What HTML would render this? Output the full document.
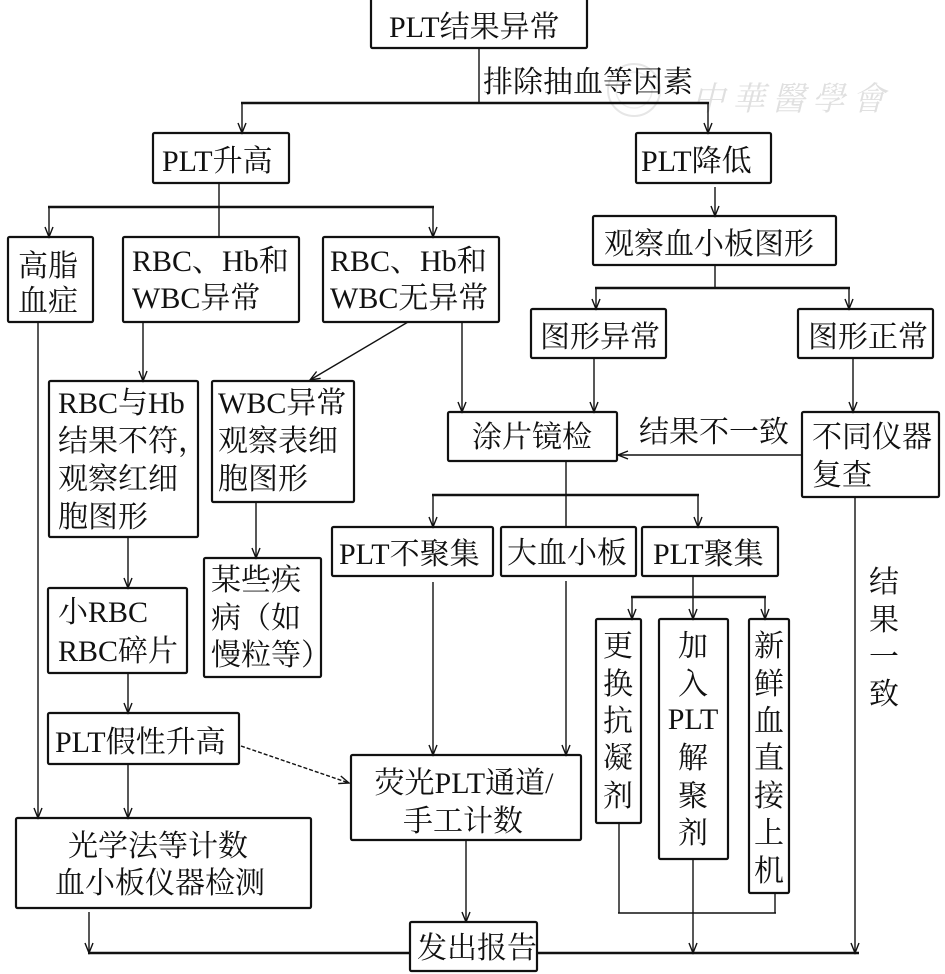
<!DOCTYPE html>
<html><head><meta charset="utf-8"><style>
html,body{margin:0;padding:0;background:#fff;}
svg{display:block;}
text{font-family:"Liberation Serif","Noto Serif CJK SC","Noto Serif CJK JP","Noto Serif CJK TC","Noto Serif CJK KR",serif;font-size:30px;fill:#111;}
.b{fill:none;stroke:#111;stroke-width:2.2;}
.l{fill:none;stroke:#111;stroke-width:1.4;}
.t{fill:none;stroke:#111;stroke-width:2.4;}
.a{fill:none;stroke:#111;stroke-width:1.4;}
</style></head><body>
<svg width="945" height="974" viewBox="0 0 945 974" xmlns="http://www.w3.org/2000/svg">
<!-- watermark -->
<circle cx="634" cy="90" r="26" fill="none" stroke="#e6e6e6" stroke-width="2"/>
<circle cx="634" cy="90" r="18" fill="none" stroke="#eeeeee" stroke-width="1.5"/>
<text x="692" y="110" style="font-size:33px;fill:#e0e0e0;font-style:italic;letter-spacing:7px">中華醫學會</text>

<!-- boxes -->
<rect class="b" x="371" y="-2" width="216" height="50" rx="1.5"/>
<rect class="b" x="153" y="133" width="136" height="50" rx="1.5"/>
<rect class="b" x="636" y="133" width="135" height="50" rx="1.5"/>
<rect class="b" x="8" y="237" width="85" height="85" rx="1.5"/>
<rect class="b" x="123" y="237" width="176" height="85" rx="1.5"/>
<rect class="b" x="323" y="237" width="176" height="85" rx="1.5"/>
<rect class="b" x="593" y="216" width="243" height="49" rx="1.5"/>
<rect class="b" x="531" y="309" width="135" height="49" rx="1.5"/>
<rect class="b" x="798" y="309" width="135" height="49" rx="1.5"/>
<rect class="b" x="49" y="381" width="149" height="156" rx="1.5"/>
<rect class="b" x="212" y="381" width="142" height="121" rx="1.5"/>
<rect class="b" x="448" y="412" width="169" height="49" rx="1.5"/>
<rect class="b" x="802" y="412" width="137" height="85" rx="1.5"/>
<rect class="b" x="332" y="527" width="161" height="49" rx="1.5"/>
<rect class="b" x="501" y="527" width="135" height="49" rx="1.5"/>
<rect class="b" x="642" y="527" width="136" height="49" rx="1.5"/>
<rect class="b" x="204" y="558" width="117" height="119" rx="1.5"/>
<rect class="b" x="48" y="588" width="139" height="85" rx="1.5"/>
<rect class="b" x="596" y="619" width="45" height="204" rx="1.5"/>
<rect class="b" x="659" y="619" width="69" height="240" rx="1.5"/>
<rect class="b" x="749" y="619" width="40" height="274" rx="1.5"/>
<rect class="b" x="48" y="713" width="191" height="51" rx="1.5"/>
<rect class="b" x="351" y="755" width="230" height="85" rx="1.5"/>
<rect class="b" x="16" y="818" width="295" height="90" rx="1.5"/>

<!-- connectors -->
<line class="l" x1="479" y1="48" x2="479" y2="103"/>
<line class="t" x1="241" y1="103" x2="709" y2="103"/>
<line class="l" x1="242" y1="103" x2="242" y2="133"/><polyline class="a" points="238,123 242,133 246,123"/>
<line class="l" x1="708" y1="103" x2="708" y2="133"/><polyline class="a" points="704,123 708,133 712,123"/>

<line class="l" x1="219" y1="183" x2="219" y2="237"/>
<line class="t" x1="48" y1="207" x2="434" y2="207"/>
<line class="l" x1="49" y1="207" x2="49" y2="237"/><polyline class="a" points="45,227 49,237 53,227"/>
<line class="l" x1="433" y1="207" x2="433" y2="237"/><polyline class="a" points="429,227 433,237 437,227"/>

<line class="l" x1="715" y1="187" x2="715" y2="216"/><polyline class="a" points="711,206 715,216 719,206"/>
<line class="l" x1="715" y1="265" x2="715" y2="288"/>
<line class="t" x1="595" y1="288" x2="850" y2="288"/>
<line class="l" x1="596" y1="288" x2="596" y2="309"/><polyline class="a" points="592,299 596,309 600,299"/>
<line class="l" x1="849" y1="288" x2="849" y2="309"/><polyline class="a" points="845,299 849,309 853,299"/>

<line class="l" x1="38" y1="322" x2="38" y2="818"/><polyline class="a" points="34,808 38,818 42,808"/>
<line class="l" x1="143" y1="322" x2="143" y2="381"/><polyline class="a" points="139,371 143,381 147,371"/>
<line class="l" x1="408" y1="322" x2="310" y2="380"/><polyline class="a" points="320.6,378.3 310,380 316.6,371.5"/>
<line class="l" x1="462" y1="322" x2="462" y2="412"/><polyline class="a" points="458,402 462,412 466,402"/>
<line class="l" x1="594" y1="358" x2="594" y2="412"/><polyline class="a" points="590,402 594,412 598,402"/>
<line class="l" x1="853" y1="358" x2="853" y2="412"/><polyline class="a" points="849,402 853,412 857,402"/>
<line class="l" x1="802" y1="455" x2="618" y2="455"/><polyline class="a" points="628,451 618,455 628,459"/>

<line class="l" x1="566" y1="461" x2="566" y2="527"/>
<line class="t" x1="432" y1="495" x2="699" y2="495"/>
<line class="l" x1="433" y1="495" x2="433" y2="527"/><polyline class="a" points="429,517 433,527 437,517"/>
<line class="l" x1="698" y1="495" x2="698" y2="527"/><polyline class="a" points="694,517 698,527 702,517"/>

<line class="l" x1="256" y1="502" x2="256" y2="558"/><polyline class="a" points="252,548 256,558 260,548"/>
<line class="l" x1="128" y1="537" x2="128" y2="588"/><polyline class="a" points="124,578 128,588 132,578"/>

<line class="l" x1="433" y1="582" x2="433" y2="755"/><polyline class="a" points="429,745 433,755 437,745"/>
<line class="l" x1="566" y1="581" x2="566" y2="755"/><polyline class="a" points="562,745 566,755 570,745"/>

<line class="l" x1="693" y1="576" x2="693" y2="597"/>
<line class="t" x1="631" y1="597" x2="766" y2="597"/>
<line class="l" x1="632" y1="597" x2="632" y2="619"/><polyline class="a" points="628,609 632,619 636,609"/>
<line class="l" x1="693" y1="597" x2="693" y2="619"/><polyline class="a" points="689,609 693,619 697,609"/>
<line class="l" x1="765" y1="597" x2="765" y2="619"/><polyline class="a" points="761,609 765,619 769,609"/>

<line class="l" x1="128" y1="673" x2="128" y2="713"/><polyline class="a" points="124,703 128,713 132,703"/>
<line class="l" x1="241" y1="746" x2="349" y2="783" stroke-dasharray="4,2"/><polyline class="a" points="338.2,783.6 349,783 340.8,776"/>
<line class="l" x1="128" y1="764" x2="128" y2="818"/><polyline class="a" points="124,808 128,818 132,808"/>
<line class="l" x1="466" y1="840" x2="466" y2="922"/><polyline class="a" points="462,912 466,922 470,912"/>

<line class="l" x1="89" y1="912" x2="89" y2="953"/><polyline class="a" points="85,943 89,953 93,943"/>
<line class="t" x1="88" y1="953" x2="859" y2="953"/>
<line class="l" x1="619" y1="823" x2="619" y2="913"/>
<line class="l" x1="618" y1="913" x2="776" y2="913"/>
<line class="l" x1="775" y1="893" x2="775" y2="913"/>
<line class="l" x1="693" y1="859" x2="693" y2="953"/><polyline class="a" points="689,943 693,953 697,943"/>
<line class="l" x1="855" y1="497" x2="855" y2="953"/><polyline class="a" points="851,943 855,953 859,943"/>

<rect class="b" x="410" y="922" width="127" height="49" rx="1.5" style="fill:#fff"/>

<!-- texts -->
<text x="389" y="37">PLT结果异常</text>
<text x="483" y="92">排除抽血等因素</text>
<text x="162" y="171">PLT升高</text>
<text x="641" y="171">PLT降低</text>
<text x="18" y="276">高脂</text>
<text x="18" y="311">血症</text>
<text x="132" y="271">RBC、Hb和</text>
<text x="132" y="308">WBC异常</text>
<text x="330" y="271">RBC、Hb和</text>
<text x="330" y="308">WBC无异常</text>
<text x="604" y="254">观察血小板图形</text>
<text x="540" y="347">图形异常</text>
<text x="808" y="347">图形正常</text>
<text x="58" y="413">RBC与Hb</text>
<text x="58" y="451">结果不符，</text>
<text x="58" y="489">观察红细</text>
<text x="58" y="527">胞图形</text>
<text x="218" y="413">WBC异常</text>
<text x="218" y="451">观察表细</text>
<text x="218" y="489">胞图形</text>
<text x="472" y="447">涂片镜检</text>
<text x="639" y="442">结果不一致</text>
<text x="812" y="447">不同仪器</text>
<text x="812" y="485">复查</text>
<text x="339" y="564">PLT不聚集</text>
<text x="507" y="563">大血小板</text>
<text x="653" y="564">PLT聚集</text>
<text x="211" y="590">某些疾</text>
<text x="211" y="628">病（如</text>
<text x="211" y="665">慢粒等）</text>
<text x="58" y="622">小RBC</text>
<text x="58" y="661">RBC碎片</text>

<g text-anchor="middle">
<text x="618" y="656">更</text><text x="618" y="694">换</text><text x="618" y="731">抗</text><text x="618" y="768">凝</text><text x="618" y="806">剂</text>
<text x="693" y="656">加</text><text x="693" y="694">入</text><text x="693" y="729">PLT</text><text x="693" y="768">解</text><text x="693" y="806">聚</text><text x="693" y="843">剂</text>
<text x="769" y="656">新</text><text x="769" y="694">鲜</text><text x="769" y="731">血</text><text x="769" y="768">直</text><text x="769" y="806">接</text><text x="769" y="843">上</text><text x="769" y="881">机</text>
<text x="884" y="592">结</text><text x="884" y="630">果</text><text x="884" y="667">一</text><text x="884" y="704">致</text>
<text x="464" y="793">荧光PLT通道/</text>
<text x="463" y="831">手工计数</text>
<text x="158" y="856">光学法等计数</text>
<text x="160" y="893">血小板仪器检测</text>
</g>
<text x="55" y="752">PLT假性升高</text>
<text x="417" y="958">发出报告</text>
</svg>
</body></html>
